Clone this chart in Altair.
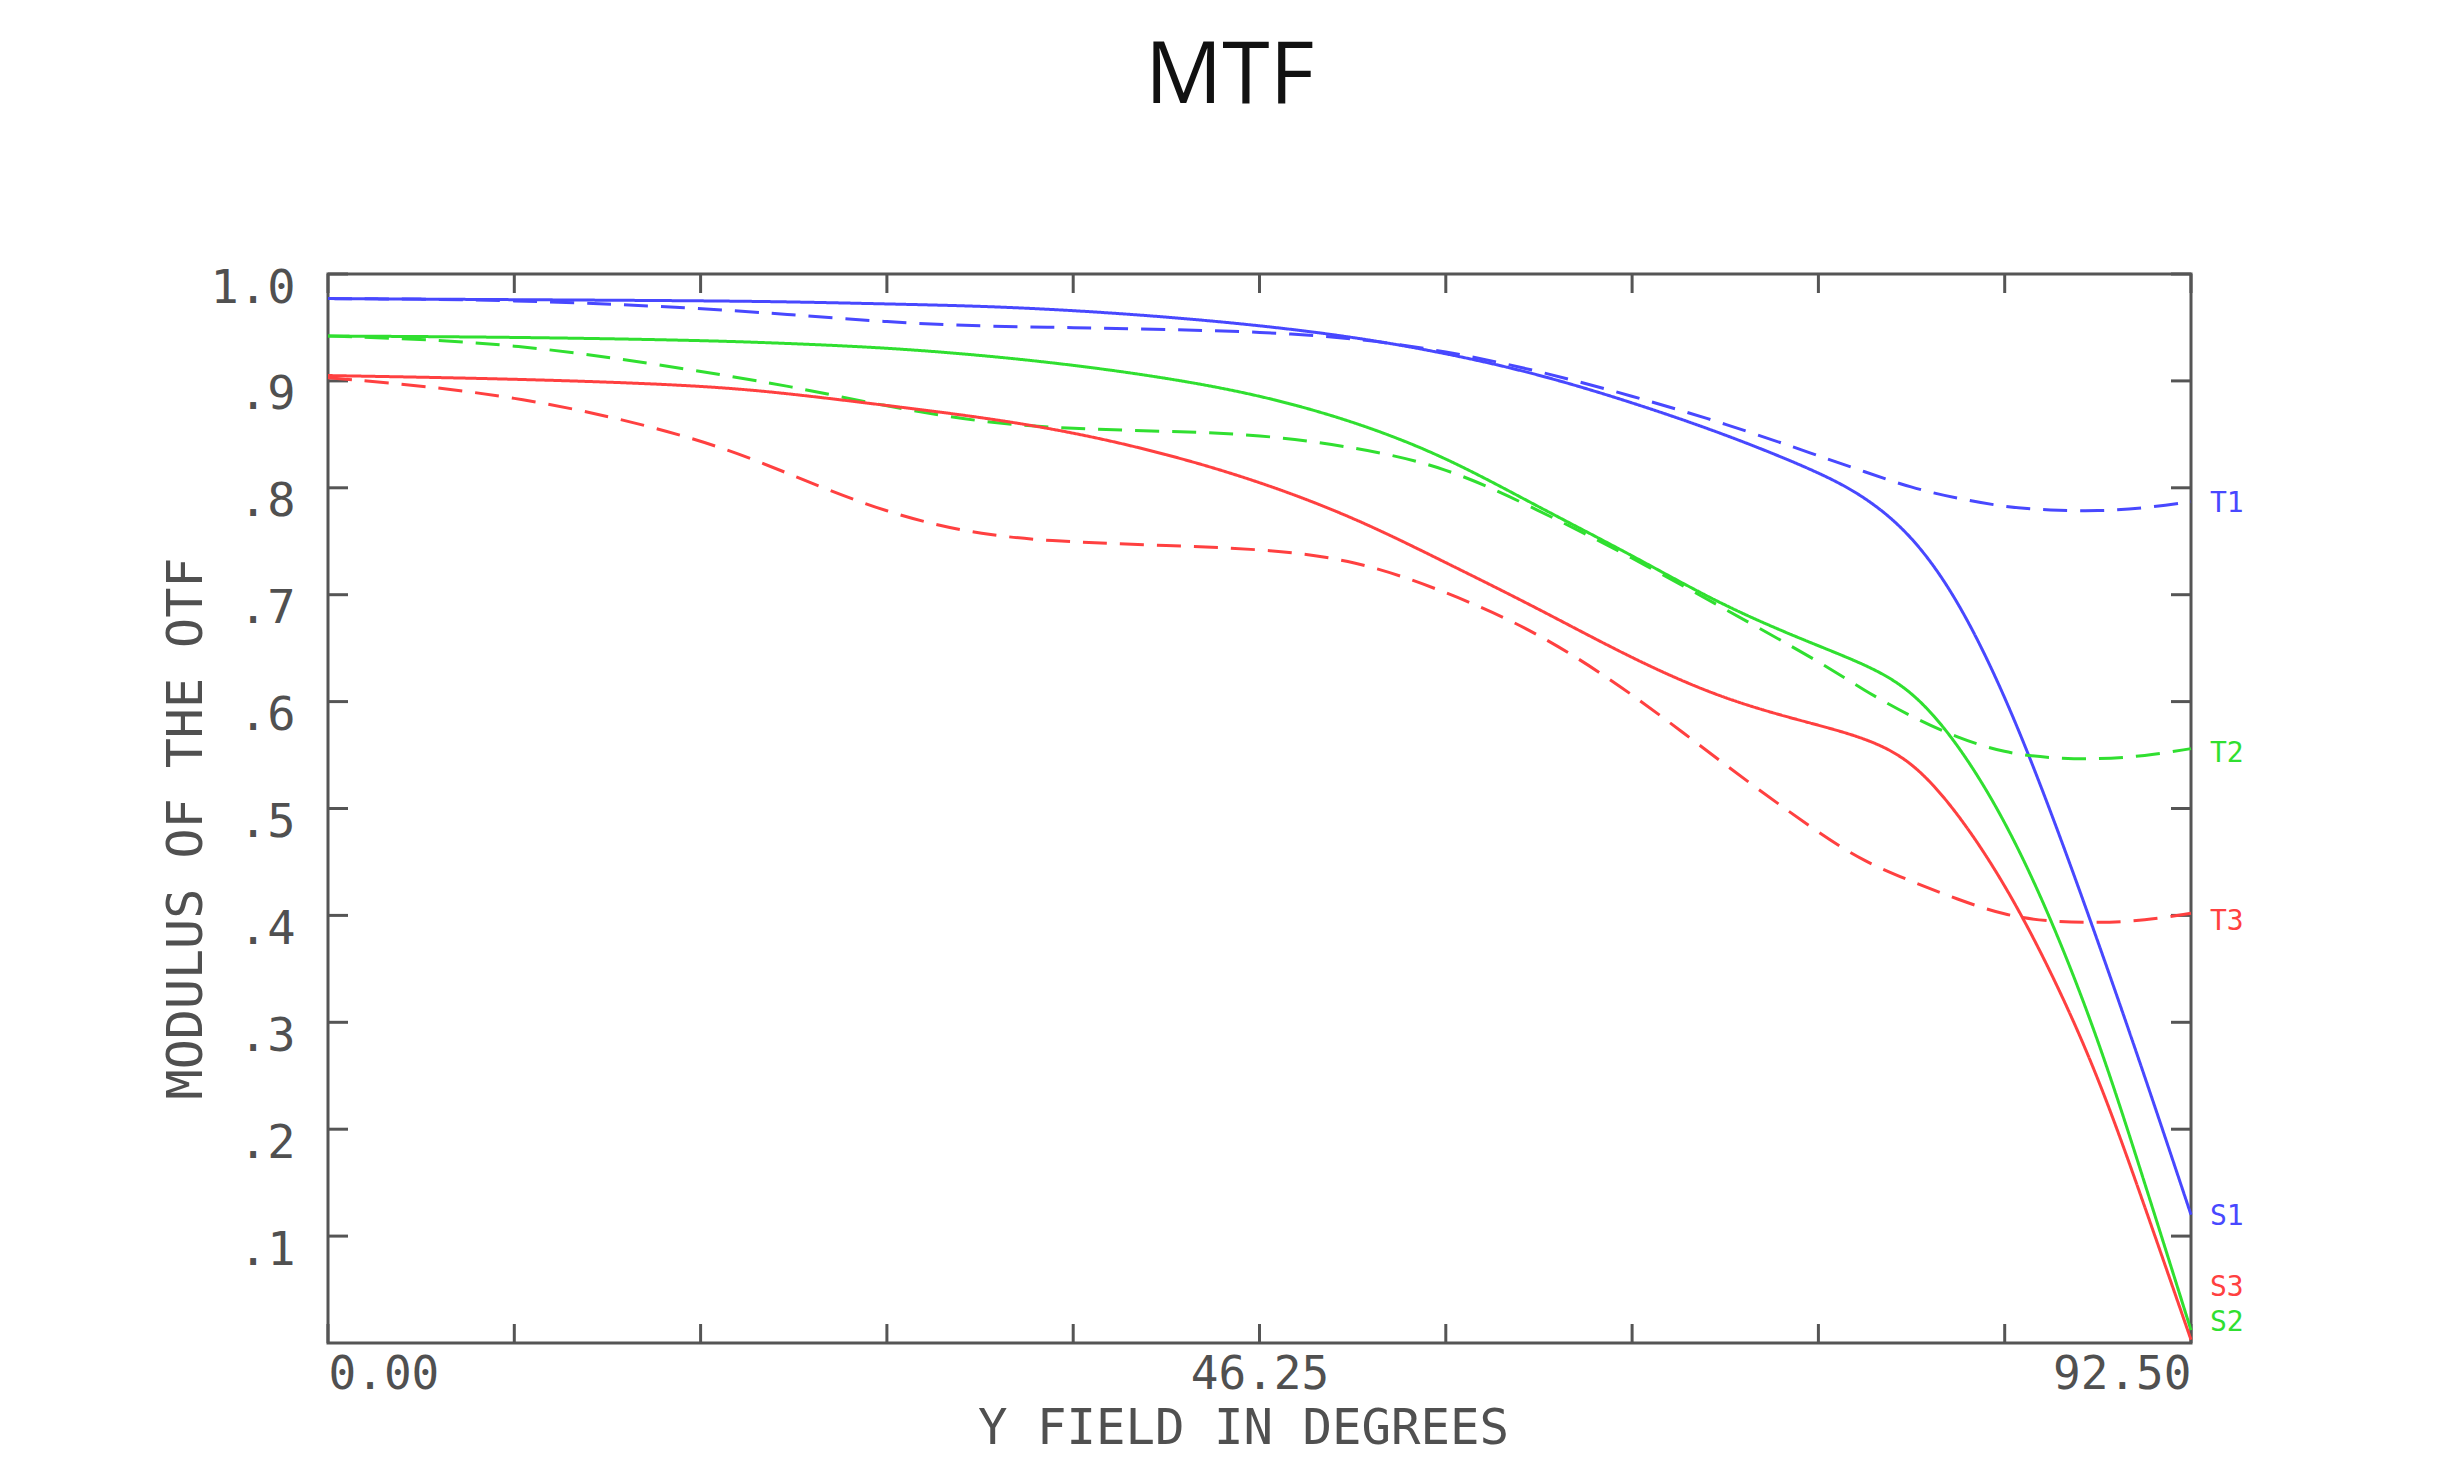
import altair as alt
import pandas as pd

# ---------------- data ----------------
field = [0, 9.25, 18.5, 23, 27.75, 32.5, 37, 41.6, 46.25, 51, 55.5, 60, 64.75,
         69.4, 74, 76.3, 78.6, 80.9, 83.25, 85.5, 87.9, 90.2, 92.5]

s1 = [0.977, 0.976, 0.975, 0.974, 0.972, 0.970, 0.966, 0.960, 0.952, 0.941, 0.926, 0.907, 0.880,
      0.850, 0.815, 0.792, 0.757, 0.697, 0.607, 0.500, 0.375, 0.250, 0.120]
t1 = [0.977, 0.976, 0.968, 0.962, 0.955, 0.951, 0.950, 0.948, 0.946, 0.940, 0.928, 0.910, 0.886,
      0.860, 0.830, 0.815, 0.800, 0.790, 0.782, 0.779, 0.778, 0.781, 0.787]
s2 = [0.942, 0.941, 0.938, 0.935, 0.931, 0.924, 0.915, 0.903, 0.887, 0.862, 0.829, 0.783, 0.737,
      0.688, 0.652, 0.635, 0.612, 0.562, 0.490, 0.400, 0.285, 0.150, 0.012]
t2 = [0.942, 0.936, 0.909, 0.895, 0.876, 0.861, 0.855, 0.853, 0.850, 0.838, 0.820, 0.780, 0.735,
      0.686, 0.638, 0.610, 0.586, 0.566, 0.552, 0.547, 0.546, 0.549, 0.556]
s3 = [0.905, 0.902, 0.896, 0.888, 0.877, 0.866, 0.852, 0.832, 0.806, 0.772, 0.730, 0.688, 0.640,
      0.601, 0.578, 0.566, 0.546, 0.497, 0.430, 0.350, 0.250, 0.128, 0.003]
t3 = [0.903, 0.888, 0.847, 0.812, 0.776, 0.755, 0.749, 0.746, 0.743, 0.733, 0.703, 0.666, 0.608,
      0.540, 0.477, 0.450, 0.432, 0.415, 0.400, 0.394, 0.393, 0.395, 0.402]

series = {"S1": s1, "T1": t1, "S2": s2, "T2": t2, "S3": s3, "T3": t3}

label_names = ["T1", "T2", "T3", "S1", "S3", "S2"]
label_values = [0.785, 0.551, 0.394, 0.118, 0.051, 0.019]
label_field = [92.5] * 6

x_tick_values = [0, 9.25, 18.5, 27.75, 37, 46.25, 55.5, 64.75, 74, 83.25, 92.5]
x_label_values = [0, 46.25, 92.5]
y_tick_values = [0.1, 0.2, 0.3, 0.4, 0.5, 0.6, 0.7, 0.8, 0.9, 1.0]

colour_keys = ["1", "2", "3"]
colour_range = ["#4848ff", "#30df30", "#ff4040"]

# ---------------- frames ----------------
rows = []
for name, vals in series.items():
    for f, v in zip(field, vals):
        rows.append({"field": f, "value": v, "series": name,
                     "kind": name[0], "ck": name[1]})
df = pd.DataFrame(rows)

lab = pd.DataFrame({"field": label_field, "value": label_values,
                    "name": label_names, "ck": [n[1] for n in label_names]})
xt = pd.DataFrame({"v": x_tick_values})
yt = pd.DataFrame({"v": y_tick_values})

W, H = 1863, 1069
MONO = "DejaVu Sans Mono"
GREY = "#505050"

xscale = alt.Scale(domain=[0, 92.5], nice=False, zero=False)
yscale = alt.Scale(domain=[0, 1], nice=False)
cscale = alt.Scale(domain=colour_keys, range=colour_range)

x_axis = alt.Axis(values=x_label_values, format=".2f", labelFlush=True,
                  ticks=False, tickSize=0, domain=False, grid=False,
                  labelFont=MONO, labelFontSize=46, labelColor=GREY,
                  labelBaseline="alphabetic", labelPadding=45,
                  title="Y FIELD IN DEGREES", titleFont=MONO, titleFontSize=49,
                  titleFontWeight="normal", titleColor=GREY,
                  titleX=915, titleY=100, titleBaseline="alphabetic", titleAlign="center")
y_axis = alt.Axis(values=y_tick_values,
                  labelExpr="datum.value >= 1 ? '1.0' : '.' + format(datum.value*10, '.0f')",
                  ticks=False, tickSize=0, domain=False, grid=False,
                  labelFont=MONO, labelFontSize=47, labelColor=GREY,
                  labelBaseline="alphabetic", labelOffset=28, labelPadding=33,
                  labelAlign="right",
                  title="MODULUS OF THE OTF", titleFont=MONO, titleFontSize=50,
                  titleFontWeight="normal", titleColor=GREY, titleAngle=270,
                  titleX=-127, titleY=554, titleBaseline="alphabetic", titleAlign="center")

lines = alt.Chart(df).mark_line(interpolate="basis", strokeWidth=3).encode(
    x=alt.X("field:Q", scale=xscale, axis=x_axis),
    y=alt.Y("value:Q", scale=yscale, axis=y_axis),
    color=alt.Color("ck:N", scale=cscale, legend=None),
    strokeDash=alt.StrokeDash("kind:N", scale=alt.Scale(domain=["S", "T"], range=[[1, 0], [24, 13]]),
                              legend=None),
    detail="series:N",
)

tick_style = dict(color="#555555", strokeWidth=3)
xt_bottom = alt.Chart(xt).mark_rule(**tick_style).encode(
    x=alt.X("v:Q", scale=xscale), y=alt.value(H), y2=alt.value(H - 19))
xt_top = alt.Chart(xt).mark_rule(**tick_style).encode(
    x=alt.X("v:Q", scale=xscale), y=alt.value(0), y2=alt.value(19))
yt_left = alt.Chart(yt).mark_rule(**tick_style).encode(
    y=alt.Y("v:Q", scale=yscale), x=alt.value(0), x2=alt.value(20))
yt_right = alt.Chart(yt).mark_rule(**tick_style).encode(
    y=alt.Y("v:Q", scale=yscale), x=alt.value(W - 20), x2=alt.value(W))

labels = alt.Chart(lab).mark_text(align="left", baseline="middle", dx=19,
                                  font=MONO, fontSize=28).encode(
    x=alt.X("field:Q", scale=xscale),
    y=alt.Y("value:Q", scale=yscale),
    text="name:N",
    color=alt.Color("ck:N", scale=cscale, legend=None),
)

chart = alt.layer(xt_bottom, xt_top, yt_left, yt_right, lines, labels).properties(
    width=W, height=H,
    background="white",
    title=alt.TitleParams("MTF", font="Open Sans", fontSize=86, fontWeight="normal",
                          color="#111111", anchor="middle", frame="group",
                          dx=-30, offset=75, baseline="alphabetic"),
    autosize=alt.AutoSizeParams(type="none"),
    padding={"left": 320, "top": 266, "right": 263, "bottom": 112},
).configure_view(stroke="#555555", strokeWidth=3)

chart.save("out.html", embed_options={"renderer": "svg", "actions": False})
